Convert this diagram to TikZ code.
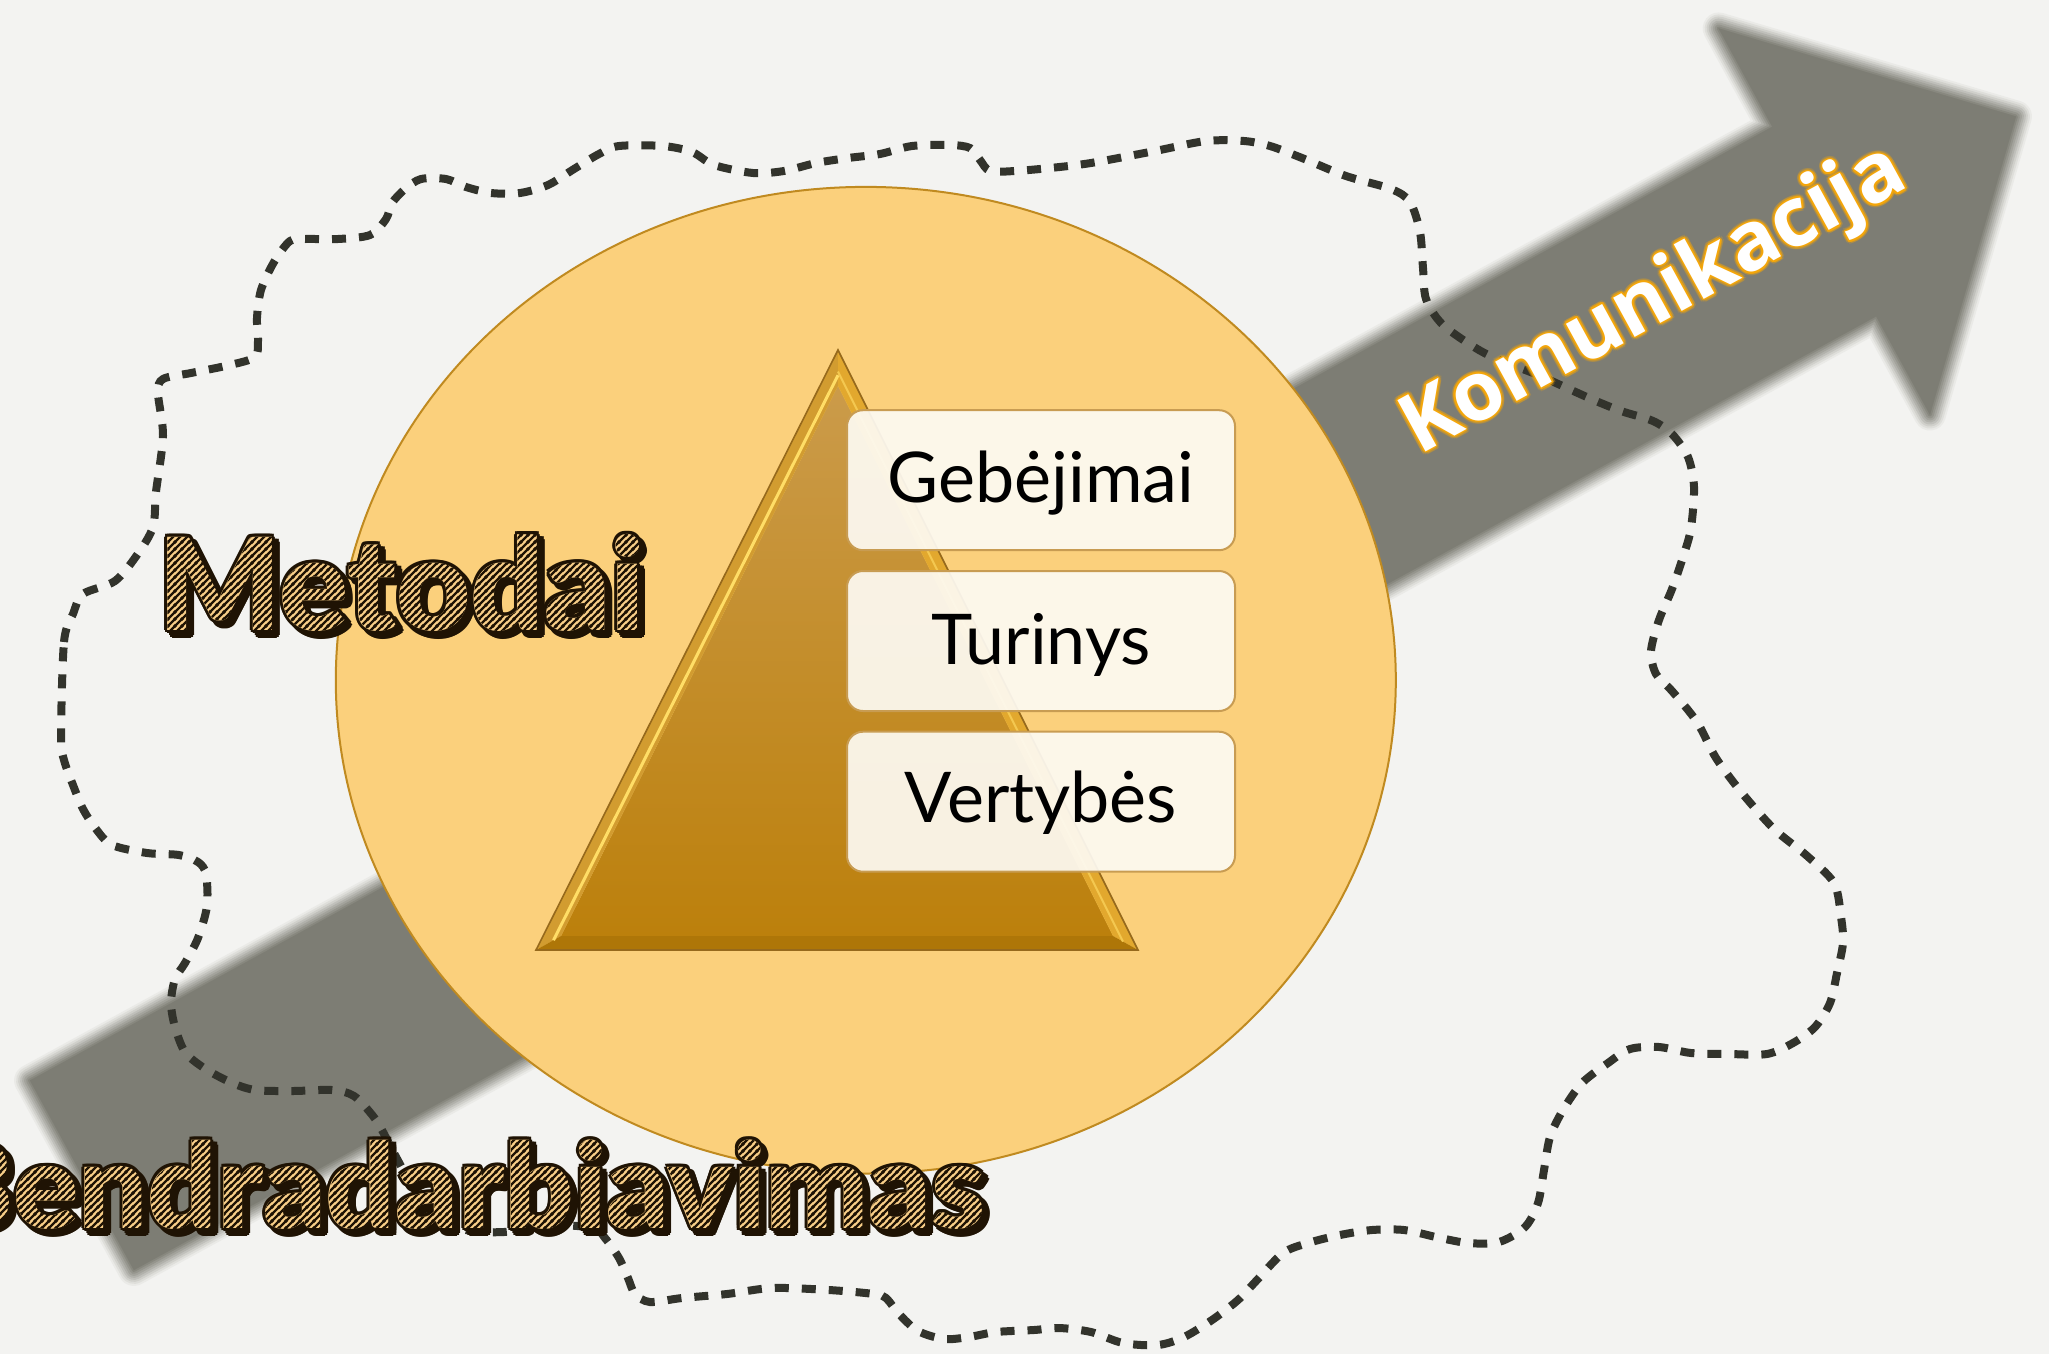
\documentclass[tikz,border=0pt]{standalone}
\usepackage{graphicx}
\usepackage{fontspec}
\setmainfont{Lato}
\newfontfamily\heavyfont{Lato Black}
\newfontfamily\komfont{Open Sans}
\usetikzlibrary{patterns,calc,shapes.geometric}

\definecolor{bgc}{HTML}{F3F3F1}
\definecolor{arrowc}{HTML}{7D7D74}
\definecolor{circc}{HTML}{FBD07C}
\definecolor{circd}{HTML}{C08A20}
\definecolor{dashc}{HTML}{32332C}
\definecolor{tanc}{HTML}{F8CE88}
\definecolor{brownc}{HTML}{1F1304}
\definecolor{glowc}{HTML}{F4A60A}
\definecolor{boxf}{HTML}{FDFAF2}
\definecolor{boxd}{HTML}{C89C52}
\definecolor{pyrtop}{HTML}{CB9B4A}
\definecolor{pyrbot}{HTML}{BC800C}
\definecolor{pyrleft}{HTML}{D29C30}
\definecolor{pyrright}{HTML}{E2A82E}
\definecolor{pyrbase}{HTML}{AE7608}
\definecolor{pyrline}{HTML}{96691C}
\definecolor{pyrhigh}{HTML}{FFDD66}

\pgfdeclarepatternformonly{mystripes}{\pgfpointorigin}{\pgfpoint{3.4pt}{3.4pt}}{\pgfpoint{3.4pt}{3.4pt}}{%
  \pgfsetlinewidth{1.25pt}%
  \pgfpathmoveto{\pgfpoint{-1.7pt}{1.7pt}}\pgfpathlineto{\pgfpoint{1.7pt}{5.1pt}}%
  \pgfpathmoveto{\pgfpoint{-0.1pt}{-0.1pt}}\pgfpathlineto{\pgfpoint{3.5pt}{3.5pt}}%
  \pgfpathmoveto{\pgfpoint{1.7pt}{-1.7pt}}\pgfpathlineto{\pgfpoint{5.1pt}{1.7pt}}%
  \pgfusepath{stroke}}

\newcommand\metword{\heavyfont\fontsize{64pt}{64pt}\selectfont Metodai}
\newcommand\bendword{\scalebox{1.027}[1]{\heavyfont\fontsize{59pt}{59pt}\selectfont Bendradarbiavimas}}

\begin{document}
\begin{tikzpicture}[x=0.5pt,y=-0.5pt,
  cloudline/.style={draw=dashc, line width=4pt, dash pattern=on 7pt off 6.5pt},
  boxstyle/.style={draw=boxd, line width=1pt, fill=boxf, fill opacity=0.93, rounded corners=8pt, minimum width=194pt, minimum height=70pt, inner sep=0pt},
  boxtext/.style={anchor=base, inner sep=0pt, font=\fontsize{35pt}{35pt}\selectfont, text=black},
  fancyL/.style={anchor=base west, inner sep=0pt},
  fancyR/.style={anchor=base east, inner sep=0pt},
  komstyle/.style={rotate=28.7, inner sep=0pt, font=\komfont\bfseries\fontsize{41pt}{41pt}\selectfont},
]
\useasboundingbox (0,0) rectangle (2049,1354);
\fill[bgc] (0,0) rectangle (2049,1354);

% ---- big blurred arrow
\coordinate (t1) at (30.1,1080.5);
\coordinate (t2) at (133.9,1269.9);
\coordinate (s1) at (1772.4,126.8);
\coordinate (s2) at (1876.2,316.2);
\coordinate (h1) at (1718.7,28.5);
\coordinate (h2) at (1929.9,414.5);
\coordinate (tip) at (2015.9,116.5);
\foreach \w/\p in {16pt/8,14pt/18,12pt/30,10pt/43,8pt/56,6pt/68,4pt/80,2pt/91,0.1pt/100}{
  \filldraw[fill=arrowc!\p!bgc, draw=arrowc!\p!bgc, line width=\w, line join=round]
    (t1) -- (s1) -- (h1) -- (tip) -- (h2) -- (s2) -- (t2) -- cycle;
}

% ---- circle
\node[draw=circd, fill=circc, line width=1pt, ellipse, minimum width=530pt, minimum height=493.3pt, inner sep=0pt] (circ) at (865.8,680.2) {};

% ---- dashed cloud
\draw[cloudline] plot[smooth cycle, tension=0.5] coordinates {
(61,737) (64,642) (73,614) (83,594) (115,581) (137,555) (153,527) (156,492) (163,436) (158,393) (163,379) (191,373) (230,365) (255,357) (258,341) (257,318) (261,290) (274,262) (290,241) (306,239) (338,239) (370,235) (386,219) (392,203) (405,189) (421,179) (446,179) (466,187) (491,193) (520,193) (548,185) (574,169) (599,154) (619,146) (663,146) (692,152) (714,165) (753,173) (784,171) (816,163) (848,158) (880,154) (912,146) (950,145) (970,148) (980,160) (990,171) (1015,171) (1050,168) (1091,163) (1155,151) (1206,141) (1244,141) (1270,146) (1302,158) (1346,176) (1391,189) (1410,202) (1420,232) (1423,268) (1426,299) (1442,324) (1474,347) (1499,360) (1538,375) (1589,398) (1621,411) (1653,421) (1672,434) (1688,457) (1694,487) (1691,528) (1684,554) (1672,589) (1659,620) (1651,651) (1656,674) (1672,691) (1697,722) (1716,758) (1742,793) (1774,829) (1806,855) (1834,883) (1841,917) (1843,943) (1837,973) (1830,1003) (1815,1027) (1793,1043) (1767,1054) (1729,1054) (1691,1053) (1659,1047) (1630,1049) (1608,1063) (1582,1083) (1563,1110) (1550,1137) (1544,1170) (1538,1203) (1525,1227) (1499,1242) (1468,1243) (1436,1237) (1404,1230) (1372,1230) (1340,1235) (1308,1243) (1283,1253) (1257,1280) (1238,1300) (1212,1320) (1184,1337) (1158,1345) (1123,1343) (1091,1332) (1059,1328) (1034,1330) (996,1332) (969,1337) (944,1339) (918,1331) (899,1314) (886,1298) (874,1294) (829,1290) (772,1288) (727,1294) (682,1298) (650,1302) (635,1294) (628,1278) (619,1258) (605,1238) (593,1228) (548,1225) (504,1232) (466,1230) (440,1218) (415,1190) (395,1155) (383,1132) (373,1116) (354,1096) (332,1090) (293,1091) (255,1090) (230,1082) (204,1068) (185,1052) (175,1027) (171,1003) (175,979) (185,963) (198,938) (207,906) (206,874) (198,862) (179,855) (147,853) (112,845) (96,829) (83,809) (73,785) (64,760)
};

% ---- pyramid
\coordinate (A) at (838,350);
\coordinate (L) at (536,950);
\coordinate (R) at (1138,950);
\coordinate (A2) at (838,386);
\coordinate (L2) at (561,936);
\coordinate (R2) at (1113,936);
\shade[top color=pyrtop, bottom color=pyrbot] (A2) -- (L2) -- (R2) -- cycle;
\fill[pyrleft] (A) -- (L) -- (L2) -- (A2) -- cycle;
\fill[pyrright] (A) -- (R) -- (R2) -- (A2) -- cycle;
\fill[pyrbase] (L) -- (R) -- (R2) -- (L2) -- cycle;
\draw[pyrhigh, line width=1.5pt] ($(A)!0.7!(A2)$) -- ($(L)!0.7!(L2)$);
\draw[pyrhigh!60!pyrright, line width=1pt] ($(A)!0.6!(A2)$) -- ($(R)!0.6!(R2)$);
\draw[pyrline, line width=0.8pt] (A) -- (L) -- (R) -- cycle;

% ---- boxes
\node[boxstyle] (b1) at (1041,480.2) {};
\node[boxstyle] (b2) at (1041,641) {};
\node[boxstyle] (b3) at (1041,801.7) {};
\node[boxtext] (g1) at (1041,502) {Gebėjimai};
\node[boxtext] (g2) at (1041,664) {Turinys};
\node[boxtext] (g3) at (1041,822) {Vertybės};

% ---- Metodai
\coordinate (mp) at (158,630);
\foreach \sx/\sy [count=\j] in {5/5,0/0}{
  \foreach \a [count=\k] in {0,45,...,315}{
    \node[fancyL, text=brownc] (met-o\j-\k) at ($(mp)+(\sx,\sy)+(\a:3)$) {\metword};
  }
}
\node[fancyL, text=tanc] (met-fill) at (mp) {\metword};
\node[fancyL] (met) at (mp) {\begin{pgfscope}\pgfsetfillpattern{mystripes}{brownc}\metword\end{pgfscope}};

% ---- Bendradarbiavimas
\coordinate (bp) at (985,1228);
\foreach \sx/\sy [count=\j] in {5/5,0/0}{
  \foreach \a [count=\k] in {0,45,...,315}{
    \node[fancyR, text=brownc] (ben-o\j-\k) at ($(bp)+(\sx,\sy)+(\a:3)$) {\bendword};
  }
}
\node[fancyR, text=tanc] (ben-fill) at (bp) {\bendword};
\node[fancyR] (ben) at (bp) {\begin{pgfscope}\pgfsetfillpattern{mystripes}{brownc}\bendword\end{pgfscope}};

% ---- Komunikacija
\coordinate (kp) at (1655,302);
\foreach \a [count=\k] in {0,30,...,330}{
  \node[komstyle, text=glowc, opacity=0.25] (kom-g\k) at ($(kp)+(\a:3.5)$) {Komunikacija};
}
\foreach \a [count=\k] in {0,45,...,315}{
  \node[komstyle, text=glowc] (kom-o\k) at ($(kp)+(\a:1.6)$) {Komunikacija};
}
\node[komstyle, text=white] (kom) at (kp) {Komunikacija};
\end{tikzpicture}
\end{document}
